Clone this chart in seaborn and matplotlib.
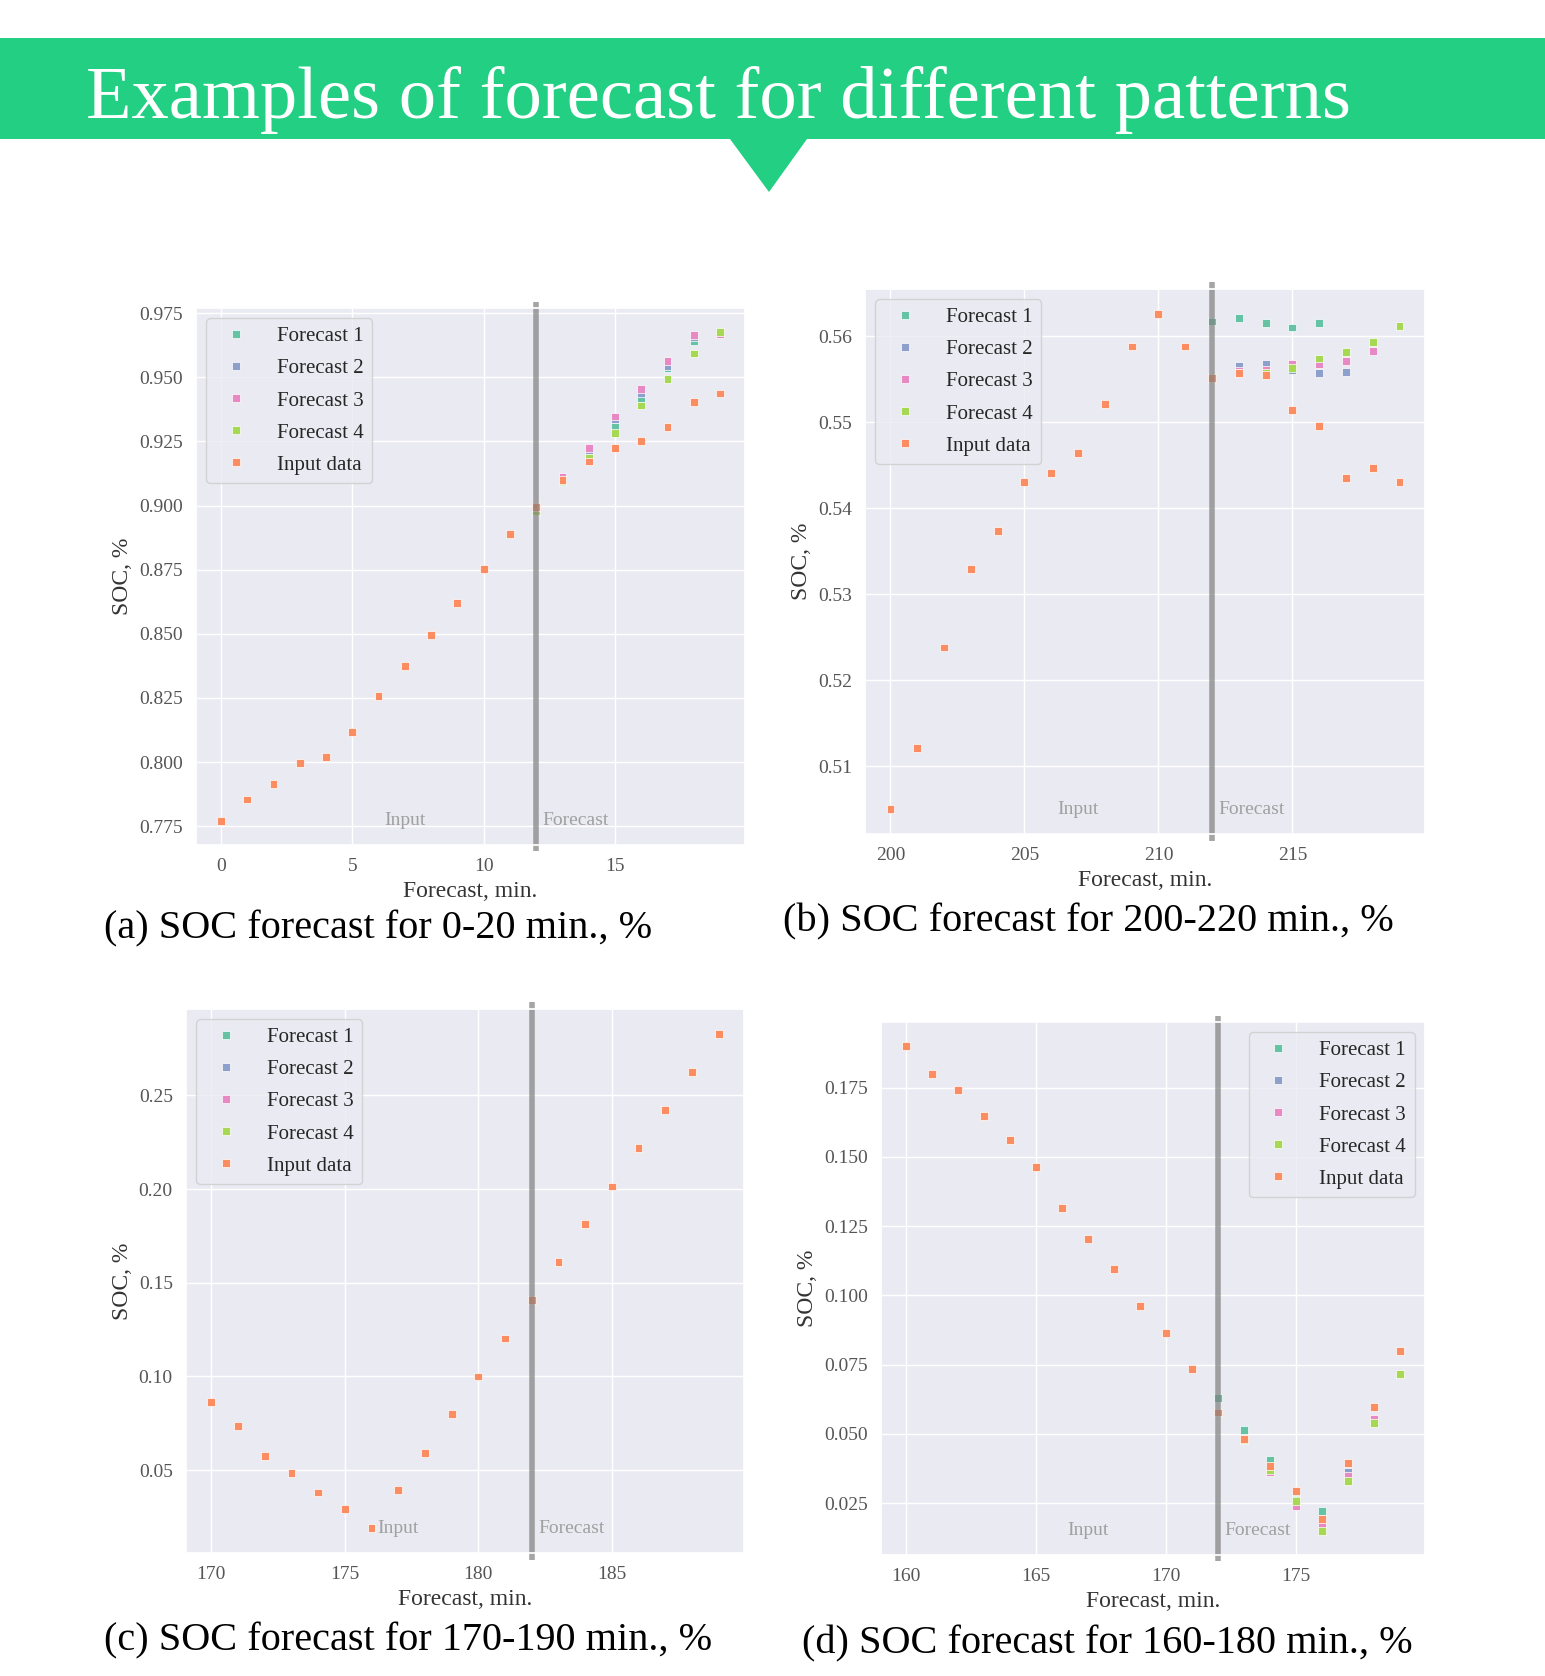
import pandas as pd
import matplotlib.pyplot as plt
import seaborn as sns
from matplotlib.patches import Rectangle, Polygon
from matplotlib.ticker import MultipleLocator

# ---- data ----
labels = ["Forecast 1", "Forecast 2", "Forecast 3", "Forecast 4", "Input data"]
colors = ["#66c2a5", "#8da0cb", "#e78ac3", "#a6d854", "#fc8d62"]

# (a) 0-20 min
a_minutes = list(range(0, 20))
a_input = [0.7772, 0.7854, 0.7915, 0.7996, 0.8020, 0.8117, 0.8258, 0.8374, 0.8497, 0.8620,
           0.8754, 0.8889, 0.8995, 0.9100, 0.9172, 0.9225, 0.9252, 0.9307, 0.9405, 0.9437]
a_f1 = [0.8978, 0.9090, 0.9202, 0.9307, 0.9420, 0.9535, 0.9640, 0.9672]
a_f2 = [0.8990, 0.9113, 0.9218, 0.9336, 0.9440, 0.9545, 0.9655, 0.9670]
a_f3 = [0.8992, 0.9110, 0.9225, 0.9347, 0.9456, 0.9563, 0.9666, 0.9668]
a_f4 = [0.8980, 0.9095, 0.9187, 0.9284, 0.9390, 0.9493, 0.9593, 0.9675]

# (b) 200-220 min
b_minutes = list(range(200, 220))
b_input = [0.5050, 0.5121, 0.5238, 0.5329, 0.5373, 0.5430, 0.5441, 0.5464, 0.5521, 0.5588,
           0.5626, 0.5588, 0.5551, 0.5557, 0.5555, 0.5514, 0.5496, 0.5435, 0.5447, 0.5430]
b_f1 = [0.5617, 0.5621, 0.5615, 0.5610, 0.5615, 0.5582, 0.5593, 0.5612]
b_f2 = [0.5551, 0.5565, 0.5568, 0.5560, 0.5557, 0.5558, 0.5583, 0.5612]
b_f3 = [0.5551, 0.5560, 0.5561, 0.5568, 0.5568, 0.5571, 0.5583, 0.5612]
b_f4 = [0.5551, 0.5557, 0.5557, 0.5563, 0.5574, 0.5582, 0.5593, 0.5612]

# (c) 170-190 min (forecasts sit under the input points)
c_minutes = list(range(170, 190))
c_input = [0.0866, 0.0735, 0.0577, 0.0483, 0.0381, 0.0292, 0.0190, 0.0394, 0.0593, 0.0801,
           0.1000, 0.1203, 0.1407, 0.1610, 0.1813, 0.2014, 0.2219, 0.2420, 0.2624, 0.2829]
c_f1 = [0.1407, 0.1610, 0.1813, 0.2014, 0.2219, 0.2420, 0.2624, 0.2829]
c_f2 = [0.1407, 0.1610, 0.1813, 0.2014, 0.2219, 0.2420, 0.2624, 0.2829]
c_f3 = [0.1407, 0.1610, 0.1813, 0.2014, 0.2219, 0.2420, 0.2624, 0.2829]
c_f4 = [0.1407, 0.1610, 0.1813, 0.2014, 0.2219, 0.2420, 0.2624, 0.2829]

# (d) 160-180 min
d_minutes = list(range(160, 180))
d_input = [0.1900, 0.1801, 0.1743, 0.1649, 0.1561, 0.1463, 0.1315, 0.1205, 0.1094, 0.0963,
           0.0864, 0.0733, 0.0577, 0.0480, 0.0384, 0.0294, 0.0191, 0.0394, 0.0596, 0.0798]
d_f1 = [0.0628, 0.0515, 0.0405, 0.0262, 0.0222, 0.0345, 0.0550, 0.0715]
d_f2 = [0.0577, 0.0478, 0.0375, 0.0255, 0.0185, 0.0362, 0.0552, 0.0715]
d_f3 = [0.0577, 0.0478, 0.0361, 0.0240, 0.0175, 0.0348, 0.0554, 0.0715]
d_f4 = [0.0577, 0.0478, 0.0370, 0.0259, 0.0150, 0.0329, 0.0540, 0.0715]

captions = ["(a) SOC forecast for 0-20 min., %",
            "(b) SOC forecast for 200-220 min., %",
            "(c) SOC forecast for 170-190 min., %",
            "(d) SOC forecast for 160-180 min., %"]

sns.set_theme(style="darkgrid")
plt.rcParams["font.family"] = ["Liberation Serif", "DejaVu Serif"]

W, H = 1545, 1676
fig = plt.figure(figsize=(W / 100, H / 100), dpi=100)


def px_axes(left, top, right, bottom):
    return fig.add_axes([left / W, 1 - bottom / H, (right - left) / W, (bottom - top) / H])


def draw_panel(ax, minutes, inp, forecasts, split, ystep, loc):
    rows = []
    fx = minutes[minutes.index(split):]
    for name, vals in zip(labels[:4], forecasts):
        for m, v in zip(fx, vals):
            rows.append((m, v, name))
    for m, v in zip(minutes, inp):
        rows.append((m, v, labels[4]))
    df = pd.DataFrame(rows, columns=["minute", "soc", "series"])

    sns.scatterplot(data=df, x="minute", y="soc", hue="series", hue_order=labels,
                    palette=dict(zip(labels, colors)), marker="s", s=32,
                    edgecolor="white", linewidth=0.5, ax=ax)
    ax.axvline(split, color="#7f7f7f", lw=4, alpha=0.7, ymin=-0.012, ymax=1.012,
               clip_on=False, solid_capstyle="butt")

    ymin = df["soc"].min()
    ax.text(minutes[0] + 7, ymin, "Input", ha="center", va="center", fontsize=14, color="#a0a0a0")
    ax.text(split + 0.25, ymin, "Forecast", ha="left", va="center", fontsize=14, color="#a0a0a0")

    ax.xaxis.set_major_locator(MultipleLocator(5))
    ax.yaxis.set_major_locator(MultipleLocator(ystep))
    ax.tick_params(labelsize=14, labelcolor="#555555")
    ax.set_xlabel("Forecast, min.", fontsize=17, color="#333333")
    ax.set_ylabel("SOC, %", fontsize=17, color="#333333")
    ax.legend(loc=loc, fontsize=15, labelspacing=0.6, handletextpad=1.0)


ax_a = px_axes(196, 308, 745, 845)
draw_panel(ax_a, a_minutes, a_input, [a_f1, a_f2, a_f3, a_f4], 12, 0.025, "upper left")

ax_b = px_axes(865, 289, 1425, 834)
draw_panel(ax_b, b_minutes, b_input, [b_f1, b_f2, b_f3, b_f4], 212, 0.01, "upper left")

ax_c = px_axes(186, 1009, 744, 1553)
draw_panel(ax_c, c_minutes, c_input, [c_f1, c_f2, c_f3, c_f4], 182, 0.05, "upper left")

ax_d = px_axes(881, 1022, 1425, 1555)
draw_panel(ax_d, d_minutes, d_input, [d_f1, d_f2, d_f3, d_f4], 172, 0.025, "upper right")

# green header banner with arrow
green = "#22cf83"
fig.patches.append(Rectangle((0, 1 - 139 / H), 1, 100.5 / H, transform=fig.transFigure,
                             facecolor=green, edgecolor="none"))
fig.patches.append(Polygon([(730 / W, 1 - 139 / H), (807 / W, 1 - 139 / H), (769 / W, 1 - 192 / H)],
                           closed=True, transform=fig.transFigure, facecolor=green, edgecolor="none"))
fig.text(85.5 / W, 1 - 117.6 / H, "Examples of forecast for different patterns",
         fontsize=53.7, color="white", va="baseline", ha="left")

# captions
fig.text(103.7 / W, 1 - 929 / H, captions[0], fontsize=29, color="black", va="center")
fig.text(782.6 / W, 1 - 921.6 / H, captions[1], fontsize=29, color="black", va="center")
fig.text(103.7 / W, 1 - 1641 / H, captions[2], fontsize=29, color="black", va="center")
fig.text(802 / W, 1 - 1644 / H, captions[3], fontsize=29, color="black", va="center")

fig.savefig("out.png", dpi=100)
